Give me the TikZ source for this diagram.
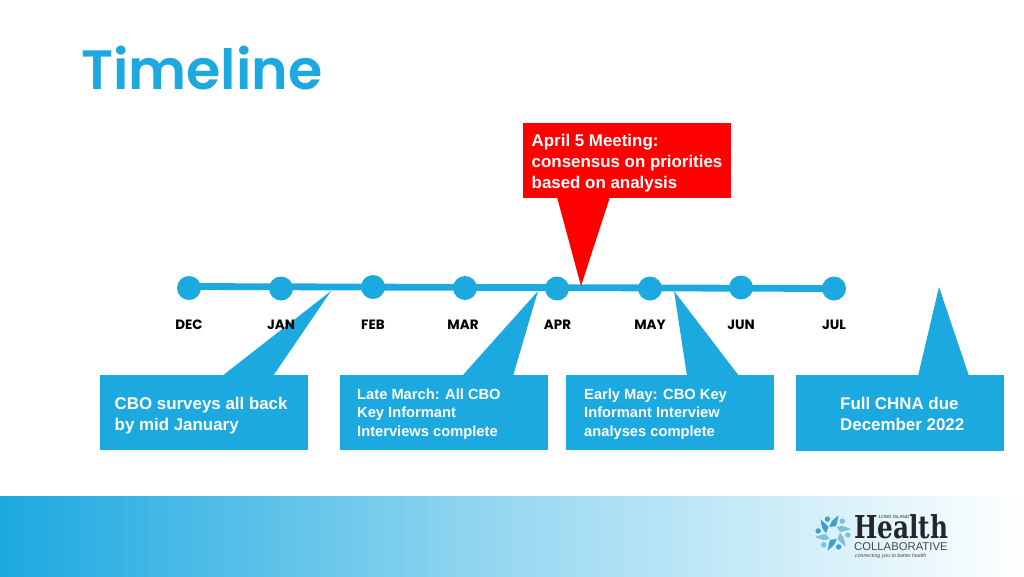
\documentclass[tikz,border=0pt]{standalone}
\usepackage{fontspec}
\setmainfont{Liberation Sans}
\newfontfamily\headfont{Poppins}
\newfontfamily\titlefont{Poppins SemiBold}
\newfontfamily\slabfont{DejaVu Serif}
\usetikzlibrary{positioning}
\definecolor{tlblue}{HTML}{1BA9E0}
\definecolor{logodark}{HTML}{23272B}
\definecolor{logoblue}{HTML}{3F9FC8}
\definecolor{logopale}{HTML}{7CC0DA}
\tikzset{
  month/.style={circle,fill=tlblue,minimum size=24pt,inner sep=0pt},
  monthlabel/.style={font=\headfont\fontsize{13.5}{13.5}\selectfont\bfseries,text=black,inner sep=0pt},
  callout/.style={fill=tlblue,minimum width=208pt,minimum height=75pt,inner sep=0pt},
  bigtext/.style={font=\bfseries\fontsize{16.9}{21}\selectfont,text=white,align=left,inner sep=0pt,anchor=west},
  smalltext/.style={font=\bfseries\fontsize{14.7}{18.5}\selectfont,text=white,align=left,inner sep=0pt,anchor=west}
}
\begin{document}
\begin{tikzpicture}[x=1pt,y=-1pt]
  \useasboundingbox (0,0) rectangle (1024,576);
  % band at the bottom
  \fill[left color=tlblue,right color=white,middle color=tlblue!45] (0,496) rectangle (1024,576);
  \node[anchor=base west,inner sep=0pt,text=tlblue,font=\titlefont\fontsize{55.4}{55.4}\selectfont] (title) at (81,89) {Timeline};
  % timeline
  \draw
    (189,288) node[month] (dec){}
    (281,288.5) node[month] (jan){}
    (373,287) node[month] (feb){}
    (465,288) node[month] (mar){}
    (557,288.5) node[month] (apr){}
    (650,288.5) node[month] (may){}
    (741,287.5) node[month] (jun){}
    (834,288.5) node[month] (jul){};
  \draw[tlblue,line width=6.8pt] ([yshift=1.5pt]dec.center) -- (jul.center);
  % boxes and their tails
  \node[callout,fill=red,minimum height=75pt] (april) at (627,160.5) {};
  \node[callout] (cbo) at (204,412.5) {};
  \node[callout] (late) at (443.5,412.5) {};
  \node[callout] (early) at (670,412.5) {};
  \node[callout,minimum height=76pt] (chna) at (900,413) {};
  \coordinate (aprtip) at (581,286);
  \coordinate (cbotip) at (331,291);
  \coordinate (latetip) at (538,291);
  \coordinate (earlytip) at (674,291);
  \coordinate (chnatip) at (939,287);
  \fill[red] (557,197) -- (aprtip) -- (610,197) -- cycle;
  \fill[tlblue] (222,376) -- (cbotip) -- (273,376) -- cycle;
  \fill[tlblue] (462,376) -- (latetip) -- (513,376) -- cycle;
  \fill[tlblue] (687,376) -- (earlytip) -- (739,376) -- cycle;
  \fill[tlblue] (918,376) -- (chnatip) -- (969,376) -- cycle;
  % month names
  \node[monthlabel] (declabel) at (189,325) {DEC};
  \node[monthlabel] (janlabel) at (281,325) {JAN};
  \node[monthlabel] (feblabel) at (373,325) {FEB};
  \node[monthlabel] (marlabel) at (463,325) {MAR};
  \node[monthlabel] (aprlabel) at (557.5,325) {APR};
  \node[monthlabel] (maylabel) at (650,325) {MAY};
  \node[monthlabel] (junlabel) at (741,325) {JUN};
  \node[monthlabel] (jullabel) at (834,325) {JUL};
  % box texts
  \node[bigtext] (aprtext) at (531.5,163) {April 5 Meeting:\\consensus on priorities\\based on analysis};
  \node[bigtext] (cbotext) at (114.5,415.5) {CBO surveys all back\\by mid January};
  \node[smalltext] (latetext) at (357,414) {Late March: All CBO\\Key Informant\\Interviews complete};
  \node[smalltext] (earlytext) at (584,414) {Early May: CBO Key\\Informant Interview\\analyses complete};
  \node[bigtext] (chnatext) at (840,413.5) {Full CHNA due\\December 2022};
  % logo
  \coordinate (hub) at (833,533);
  \begin{scope}[shift={(hub)}]
    \foreach \a/\c in {0/logopale,60/logoblue,120/logopale,180/logoblue,240/logoblue,300/logopale}{
      \fill[\c] (\a:7) .. controls (\a+22:12) .. (\a+48:18.5) .. controls (\a+52:13) .. (\a+54:7.5) -- cycle;
      \fill[\c] (\a+8:15) circle (2.7pt);
    }
  \end{scope}
  \node[inner sep=0pt,anchor=base west,text=logodark,xscale=.785,font=\slabfont\bfseries\fontsize{31.5}{31.5}\selectfont] (health) at (854,538) {Health};
  \node[inner sep=0pt,text=logodark,font=\fontsize{4.5}{4.5}\selectfont] (longisland) at (894,516.5) {LONG ISLAND};
  \node[inner sep=0pt,anchor=west,text=logodark!85,font=\fontsize{11.3}{11.3}\selectfont] (collab) at (854,546.5) {COLLABORATIVE};
  \node[inner sep=0pt,anchor=west,text=logodark!85,font=\itshape\fontsize{5.2}{5.2}\selectfont] (connect) at (855,556.5) {connecting you to better health};
\end{tikzpicture}
\end{document}
